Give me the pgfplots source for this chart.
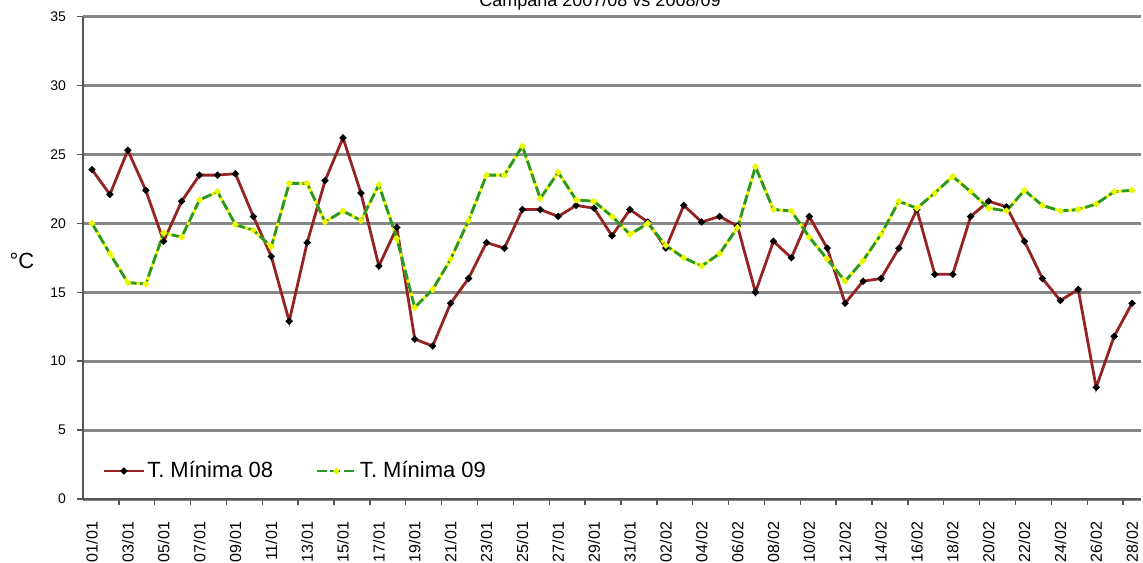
\documentclass[border=0pt]{standalone}
\usepackage{fontspec}
\setmainfont{Liberation Sans}
\usepackage{pgfplots}
\pgfplotsset{compat=1.18}
\usepackage{pgfplotstable}
\definecolor{redline}{RGB}{150,35,35}
\definecolor{greenline}{RGB}{40,150,40}
\definecolor{yel}{RGB}{235,250,0}
\definecolor{gridc}{RGB}{135,135,135}
\definecolor{axc}{RGB}{85,85,85}

\pgfplotstableread{
x y
0 23.9
1 22.1
2 25.3
3 22.4
4 18.7
5 21.6
6 23.5
7 23.5
8 23.6
9 20.5
10 17.6
11 12.9
12 18.6
13 23.1
14 26.2
15 22.2
16 16.9
17 19.7
18 11.6
19 11.1
20 14.2
21 16.0
22 18.6
23 18.2
24 21.0
25 21.0
26 20.5
27 21.3
28 21.1
29 19.1
30 21.0
31 20.1
32 18.2
33 21.3
34 20.1
35 20.5
36 19.8
37 15.0
38 18.7
39 17.5
40 20.5
41 18.2
42 14.2
43 15.8
44 16.0
45 18.2
46 21.0
47 16.3
48 16.3
49 20.5
50 21.6
51 21.2
52 18.7
53 16.0
54 14.4
55 15.2
56 8.1
57 11.8
58 14.2
}\tminA

\pgfplotstableread{
x y
0 20.0
1 17.8
2 15.7
3 15.6
4 19.3
5 19.0
6 21.7
7 22.3
8 19.9
9 19.5
10 18.3
11 22.9
12 22.9
13 20.1
14 20.9
15 20.2
16 22.8
17 18.9
18 13.9
19 15.2
20 17.4
21 20.2
22 23.5
23 23.5
24 25.6
25 21.8
26 23.7
27 21.7
28 21.6
29 20.5
30 19.2
31 20.0
32 18.4
33 17.5
34 16.9
35 17.8
36 19.7
37 24.1
38 21.0
39 20.9
40 19.0
41 17.4
42 15.8
43 17.3
44 19.2
45 21.6
46 21.1
47 22.2
48 23.4
49 22.3
50 21.1
51 20.9
52 22.4
53 21.3
54 20.9
55 21.0
56 21.4
57 22.3
58 22.4
}\tminB

\begin{document}
\begin{tikzpicture}
\useasboundingbox (-41.5pt,-31.5pt) rectangle (530pt,249.5pt);
\begin{axis}[
  at={(0,0)}, anchor=south west,
  scale only axis, width=529pt, height=241.2pt,
  xmin=-0.5, xmax=58.5, ymin=0, ymax=35,
  ytick={0,5,...,35},
  xtick={0,2,...,58},
  xticklabels={01/01,03/01,05/01,07/01,09/01,11/01,13/01,15/01,17/01,19/01,21/01,23/01,25/01,27/01,29/01,31/01,02/02,04/02,06/02,08/02,10/02,12/02,14/02,16/02,18/02,20/02,22/02,24/02,26/02,28/02},
  minor xtick={1.5,3.5,...,57.5},
  axis lines=left,
  axis line style={-, draw=axc, line width=1.4pt},
  ymajorgrids,
  grid style={gridc, line width=1.5pt},
  tick align=outside,
  major tick length=3pt, minor tick length=3pt,
  major x tick style={draw=none},
  tick style={axc, line width=0.7pt},
  /pgf/number format/assume math mode=true,
  yticklabel style={font=\fontsize{7}{8}\selectfont, xshift=-2pt},
  xticklabel style={font=\fontsize{8}{9}\selectfont, rotate=90, anchor=east, xshift=-5pt},
  legend style={at={(0.018,0.058)}, anchor=west, draw=none, fill=none,
    legend columns=2, font=\fontsize{11}{13}\selectfont,
    /tikz/every even column/.append style={column sep=20pt},
    inner sep=0pt, nodes={inner sep=1pt}},
]
\addplot[redline, line width=1.4pt, mark=*, mark size=0.9pt, mark options={black, solid},
  legend image code/.code={\draw[redline, line width=1.4pt] (0pt,0pt)--(20pt,0pt);\fill[black] (10pt,0pt) circle (0.9pt);}] table[x=x,y=y] {\tminA};
\addlegendentry{T. Mínima 08}
\addplot[yel, line width=1.4pt, forget plot] table[x=x,y=y] {\tminB};
\addplot[greenline, line width=1.4pt, dash pattern=on 5pt off 1.8pt, mark=*, mark size=0.8pt, mark options={yel, draw=yel, solid},
  legend image code/.code={\draw[yel, line width=1.4pt] (0pt,0pt)--(20pt,0pt);\draw[greenline, line width=1.4pt, dash pattern=on 5pt off 1.8pt] (0pt,0pt)--(20pt,0pt);\fill[yel] (10pt,0pt) circle (0.8pt);}] table[x=x,y=y] {\tminB};
\addlegendentry{T. Mínima 09}
\end{axis}
\node[font=\fontsize{11}{12}\selectfont, anchor=center] at (-30.5pt,118.9pt) {°C};
\node[anchor=base, font=\fontsize{9}{10}\selectfont] at (258.5pt,246pt) {Campaña 2007/08 vs 2008/09};
\end{tikzpicture}
\end{document}
